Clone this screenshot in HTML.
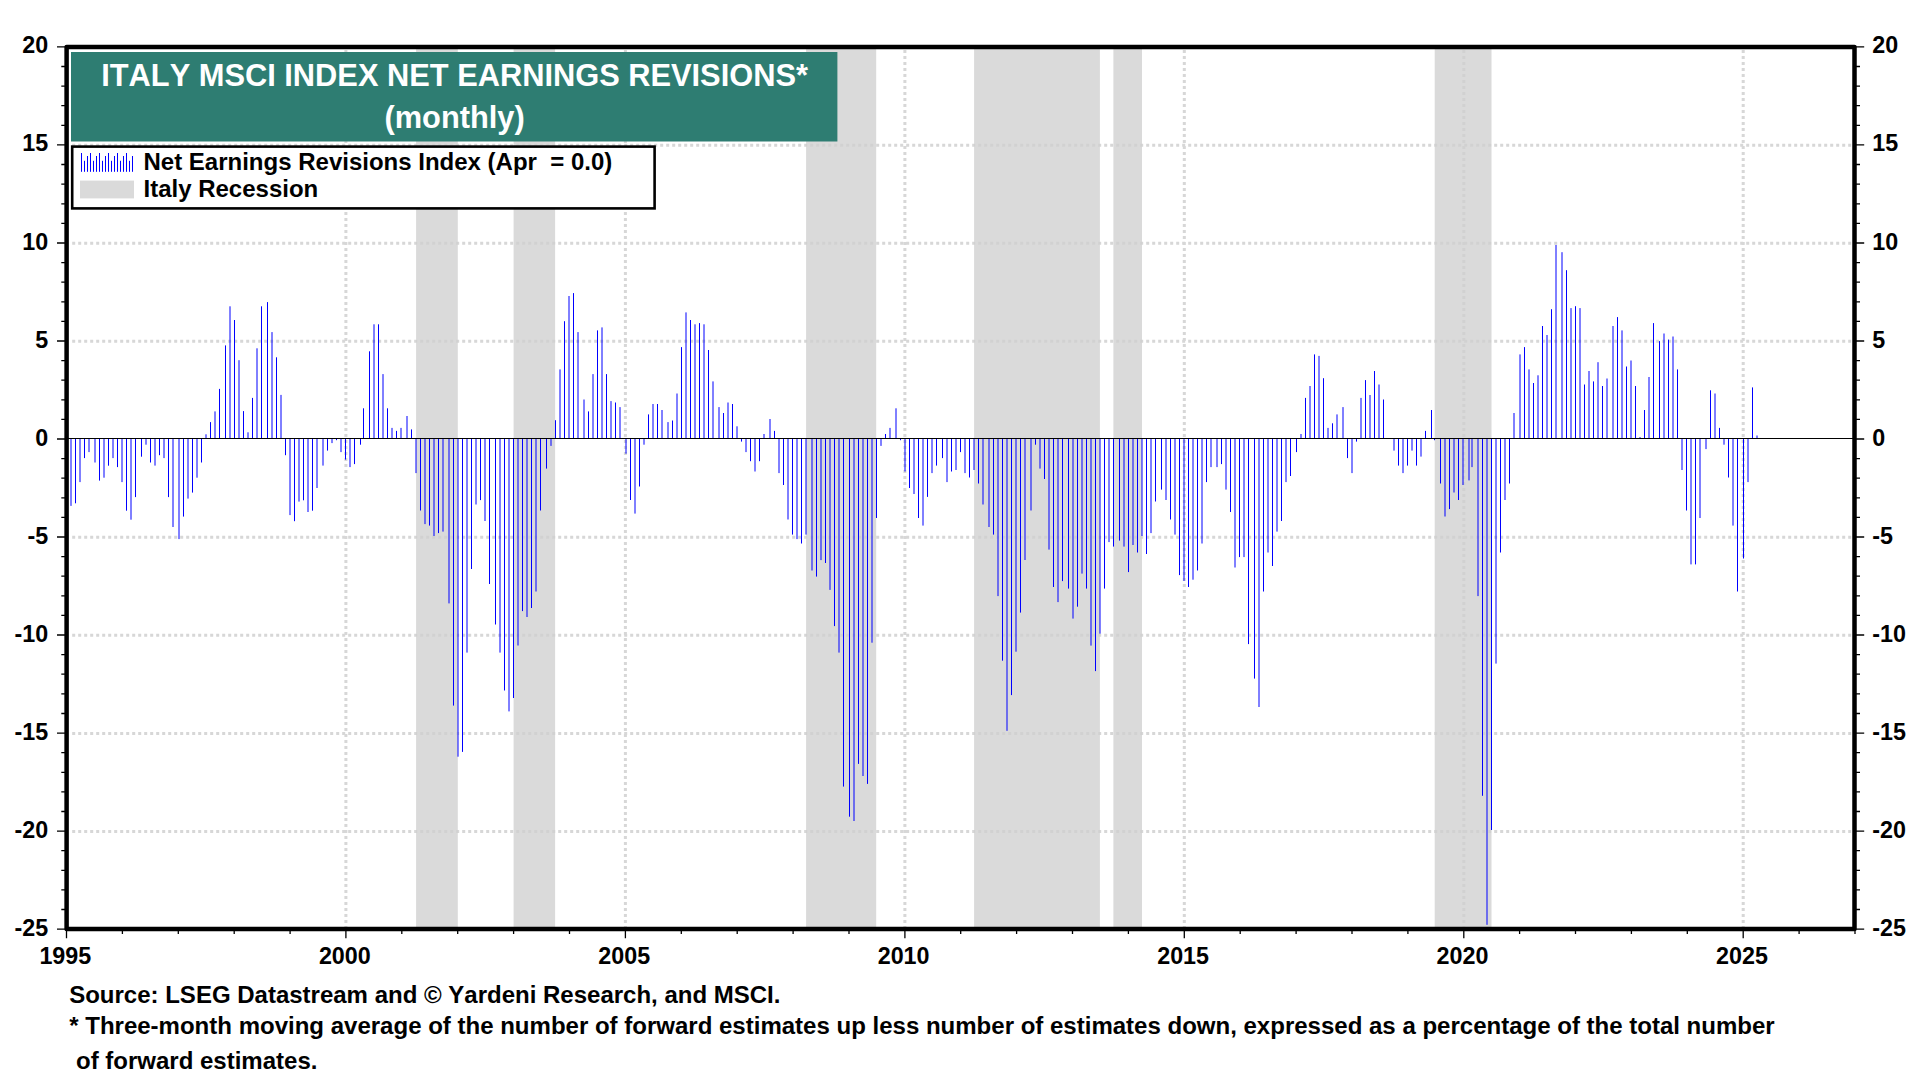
<!DOCTYPE html><html><head><meta charset="utf-8"><title>Italy MSCI Index Net Earnings Revisions</title>
<style>html,body{margin:0;padding:0;background:#fff}svg{display:block}text{font-kerning:none;font-family:"Liberation Sans",Arial,sans-serif;font-weight:bold;font-size:24px;fill:#000}text.t{font-size:23.3px}</style></head><body>
<svg width="1920" height="1080" viewBox="0 0 1920 1080">
<rect width="1920" height="1080" fill="#fff"/>
<path d="M72.2 831.4H1854.5M72.2 733.4H1854.5M72.2 635.3H1854.5M72.2 537.3H1854.5M72.2 341.3H1854.5M72.2 243.3H1854.5M72.2 145.2H1854.5M345.9 49.9V929.0M625.4 49.9V929.0M904.9 49.9V929.0M1184.3 49.9V929.0M1463.8 49.9V929.0M1743.2 49.9V929.0" stroke="#e0e0e0" stroke-width="3" stroke-dasharray="3 3" fill="none"/>
<rect x="416.10" y="46.9" width="41.70" height="882.1" fill="#dadada"/>
<rect x="513.60" y="46.9" width="41.50" height="882.1" fill="#dadada"/>
<rect x="806.10" y="46.9" width="70.10" height="882.1" fill="#dadada"/>
<rect x="974.10" y="46.9" width="125.80" height="882.1" fill="#dadada"/>
<rect x="1113.40" y="46.9" width="28.60" height="882.1" fill="#dadada"/>
<rect x="1434.70" y="46.9" width="56.80" height="882.1" fill="#dadada"/>
<path d="M72.2 831.4H1854.5M72.2 733.4H1854.5M72.2 635.3H1854.5M72.2 537.3H1854.5M72.2 341.3H1854.5M72.2 243.3H1854.5M72.2 145.2H1854.5M345.9 49.9V929.0M625.4 49.9V929.0M904.9 49.9V929.0M1184.3 49.9V929.0M1463.8 49.9V929.0M1743.2 49.9V929.0" stroke="#000" stroke-opacity="0.04" stroke-width="3" stroke-dasharray="3 3" fill="none"/>
<path d="M71.0 438.5V505.9M75.5 438.5V503.3M80.0 438.5V482.1M84.5 438.5V458.1M89.0 438.5V452.1M95.0 438.5V462.5M99.5 438.5V480.6M104.0 438.5V477.7M108.5 438.5V465.7M113.0 438.5V458.1M117.5 438.5V467.1M122.0 438.5V482.1M126.5 438.5V510.7M131.0 438.5V519.7M135.5 438.5V497.1M141.5 438.5V456.7M146.0 438.5V444.7M150.5 438.5V462.5M155.0 438.5V465.6M159.5 438.5V455.2M164.0 438.5V458.1M168.5 438.5V497.1M173.0 438.5V527.0M179.0 438.5V539.1M183.5 438.5V516.6M188.0 438.5V498.6M192.5 438.5V492.6M197.0 438.5V477.7M201.5 438.5V462.5M206.0 438.5V434.3M210.5 438.5V422.1M215.0 438.5V411.4M219.5 438.5V388.9M225.5 438.5V345.4M230.0 438.5V306.3M234.5 438.5V320.0M239.0 438.5V360.2M243.5 438.5V411.1M248.0 438.5V432.3M252.5 438.5V397.9M257.0 438.5V348.3M261.5 438.5V306.3M267.5 438.5V302.1M272.0 438.5V332.1M276.5 438.5V357.3M281.0 438.5V394.9M285.5 438.5V455.2M290.0 438.5V515.1M294.5 438.5V521.2M299.0 438.5V501.6M303.5 438.5V500.3M308.0 438.5V512.0M312.5 438.5V510.7M317.0 438.5V488.0M323.0 438.5V465.6M327.5 438.5V450.6M332.0 438.5V443.1M336.5 438.5V440.2M341.0 438.5V452.1M345.5 438.5V459.6M350.0 438.5V467.1M354.5 438.5V464.1M360.5 438.5V444.7M363.5 438.5V408.3M369.5 438.5V351.3M374.0 438.5V324.3M378.5 438.5V324.3M383.0 438.5V374.1M387.5 438.5V408.3M392.0 438.5V427.9M396.5 438.5V430.9M401.0 438.5V427.9M407.0 438.5V416.0M411.5 438.5V429.4M416.0 438.5V473.1M420.5 438.5V510.5M425.0 438.5V524.1M429.5 438.5V525.6M434.0 438.5V536.0M438.5 438.5V533.1M443.0 438.5V531.6M449.0 438.5V603.4M453.5 438.5V705.6M458.0 438.5V756.7M462.5 438.5V751.9M467.0 438.5V652.6M471.5 438.5V569.0M476.0 438.5V504.5M480.5 438.5V500.1M485.0 438.5V521.0M489.5 438.5V584.0M495.5 438.5V624.5M500.0 438.5V652.6M504.5 438.5V690.5M509.0 438.5V711.4M513.5 438.5V698.0M518.0 438.5V645.5M522.5 438.5V611.1M527.0 438.5V617.0M531.5 438.5V608.0M536.0 438.5V591.5M540.5 438.5V510.5M546.5 438.5V468.6M551.0 438.5V445.9M555.5 438.5V420.2M560.0 438.5V369.4M564.5 438.5V321.2M569.0 438.5V296.0M573.5 438.5V293.1M578.0 438.5V332.1M584.0 438.5V399.5M588.5 438.5V411.4M593.0 438.5V374.1M597.5 438.5V330.4M602.0 438.5V327.4M606.5 438.5V374.1M611.0 438.5V401.1M615.5 438.5V402.5M620.0 438.5V407.1M626.0 438.5V453.7M630.5 438.5V500.0M635.0 438.5V513.6M639.5 438.5V486.5M644.0 438.5V444.7M648.5 438.5V414.4M653.0 438.5V404.0M657.5 438.5V404.0M662.0 438.5V410.0M668.0 438.5V422.1M672.5 438.5V420.5M677.0 438.5V393.5M681.5 438.5V347.1M686.0 438.5V312.4M690.5 438.5V320.0M695.0 438.5V324.3M699.5 438.5V323.1M704.0 438.5V324.3M708.5 438.5V350.0M713.0 438.5V381.4M719.0 438.5V407.1M723.5 438.5V413.0M728.0 438.5V402.5M732.5 438.5V404.0M737.0 438.5V426.3M741.5 438.5V441.6M746.0 438.5V452.1M750.5 438.5V461.2M755.0 438.5V471.5M759.5 438.5V461.2M764.0 438.5V434.0M770.0 438.5V419.0M774.5 438.5V430.9M779.0 438.5V473.1M783.5 438.5V485.0M788.0 438.5V519.5M792.5 438.5V534.6M797.0 438.5V539.1M801.5 438.5V543.5M806.0 438.5V534.6M812.0 438.5V570.5M816.5 438.5V576.6M821.0 438.5V560.1M825.5 438.5V563.0M830.0 438.5V589.9M834.5 438.5V626.1M839.0 438.5V652.6M843.5 438.5V786.6M849.5 438.5V816.7M854.0 438.5V821.0M858.5 438.5V763.9M863.0 438.5V776.0M867.5 438.5V783.9M872.0 438.5V642.7M876.5 438.5V518.0M881.0 438.5V445.9M885.5 438.5V434.0M890.0 438.5V427.9M896.0 438.5V408.3M900.5 438.5V440.2M905.0 438.5V471.5M909.5 438.5V488.0M914.0 438.5V494.0M918.5 438.5V518.0M923.0 438.5V525.6M927.5 438.5V496.9M932.0 438.5V473.1M936.5 438.5V465.6M942.5 438.5V458.1M947.0 438.5V482.1M951.5 438.5V471.5M956.0 438.5V470.0M960.5 438.5V452.1M965.0 438.5V473.1M969.5 438.5V477.5M974.0 438.5V470.0M978.5 438.5V483.5M983.0 438.5V504.5M989.0 438.5V527.0M993.5 438.5V534.6M998.0 438.5V596.1M1002.5 438.5V660.7M1007.0 438.5V730.8M1011.5 438.5V695.1M1016.0 438.5V651.7M1020.5 438.5V612.6M1025.0 438.5V560.0M1031.0 438.5V510.5M1035.5 438.5V444.7M1040.0 438.5V468.6M1044.5 438.5V479.0M1049.0 438.5V549.6M1053.5 438.5V587.0M1058.0 438.5V602.1M1062.5 438.5V581.1M1068.5 438.5V588.6M1073.0 438.5V618.6M1077.5 438.5V606.7M1082.0 438.5V573.6M1086.5 438.5V588.6M1091.0 438.5V645.6M1095.5 438.5V671.1M1100.0 438.5V633.7M1104.5 438.5V588.6M1109.0 438.5V542.1M1113.5 438.5V546.6M1119.5 438.5V540.6M1124.0 438.5V546.6M1128.5 438.5V572.1M1133.0 438.5V545.0M1137.5 438.5V552.5M1142.0 438.5V536.0M1146.5 438.5V554.0M1151.0 438.5V533.1M1155.5 438.5V501.5M1161.5 438.5V489.6M1166.0 438.5V500.0M1170.5 438.5V519.5M1175.0 438.5V534.6M1179.5 438.5V575.1M1184.0 438.5V580.9M1188.5 438.5V587.0M1193.0 438.5V579.7M1197.5 438.5V570.5M1202.0 438.5V543.5M1206.5 438.5V482.1M1211.0 438.5V467.1M1217.0 438.5V467.1M1221.5 438.5V464.1M1226.0 438.5V489.6M1230.5 438.5V512.0M1235.0 438.5V567.5M1239.5 438.5V557.1M1244.0 438.5V557.1M1248.5 438.5V644.1M1254.5 438.5V678.6M1259.0 438.5V707.0M1263.5 438.5V591.5M1268.0 438.5V552.5M1272.5 438.5V566.0M1277.0 438.5V531.6M1281.5 438.5V521.0M1286.0 438.5V482.1M1290.5 438.5V476.0M1296.5 438.5V452.1M1301.0 438.5V434.0M1305.5 438.5V397.9M1310.0 438.5V386.0M1314.5 438.5V354.4M1319.0 438.5V355.9M1323.5 438.5V378.2M1328.0 438.5V427.9M1332.5 438.5V423.3M1337.0 438.5V414.4M1343.0 438.5V407.1M1347.5 438.5V458.1M1352.0 438.5V473.1M1356.5 438.5V441.6M1361.0 438.5V397.9M1365.5 438.5V380.1M1370.0 438.5V395.0M1374.5 438.5V371.0M1379.0 438.5V384.5M1383.5 438.5V399.5M1394.0 438.5V450.6M1398.5 438.5V465.6M1403.0 438.5V473.1M1407.5 438.5V465.6M1412.0 438.5V450.6M1416.5 438.5V465.6M1421.0 438.5V456.6M1425.5 438.5V430.9M1431.5 438.5V410.0M1434.5 438.5V440.2M1440.5 438.5V483.5M1445.0 438.5V516.5M1449.5 438.5V509.1M1454.0 438.5V492.5M1458.5 438.5V500.0M1463.0 438.5V485.0M1469.0 438.5V480.4M1472.0 438.5V467.1M1478.0 438.5V596.1M1482.5 438.5V795.8M1487.0 438.5V924.8M1491.5 438.5V830.0M1496.0 438.5V663.6M1500.5 438.5V552.5M1505.0 438.5V500.0M1509.5 438.5V483.5M1514.0 438.5V413.0M1520.0 438.5V354.4M1524.5 438.5V347.1M1529.0 438.5V369.4M1533.5 438.5V383.0M1538.0 438.5V375.3M1542.5 438.5V326.0M1547.0 438.5V335.0M1551.5 438.5V309.2M1556.0 438.5V245.0M1562.0 438.5V252.2M1566.5 438.5V270.2M1571.0 438.5V308.1M1575.5 438.5V306.2M1580.0 438.5V308.1M1584.5 438.5V384.5M1589.0 438.5V371.0M1593.5 438.5V381.4M1598.0 438.5V362.2M1602.5 438.5V386.0M1607.0 438.5V378.5M1613.0 438.5V326.0M1617.5 438.5V317.1M1622.0 438.5V330.4M1626.5 438.5V366.5M1631.0 438.5V360.5M1635.5 438.5V386.0M1640.0 438.5V437.0M1644.5 438.5V410.0M1649.0 438.5V377.0M1653.5 438.5V323.1M1659.5 438.5V341.1M1664.0 438.5V333.5M1668.5 438.5V339.6M1673.0 438.5V336.5M1677.5 438.5V369.4M1682.0 438.5V470.0M1686.5 438.5V510.5M1691.0 438.5V564.4M1695.5 438.5V564.4M1700.0 438.5V518.0M1706.0 438.5V449.1M1710.5 438.5V390.3M1715.0 438.5V393.5M1719.5 438.5V427.9M1724.0 438.5V444.7M1728.5 438.5V477.5M1733.0 438.5V525.6M1737.5 438.5V591.5M1743.5 438.5V558.5M1748.0 438.5V482.1M1752.5 438.5V387.4M1757.0 438.5V435.5" stroke="#0000ff" stroke-width="1" fill="none"/>
<path d="M66.6 438.5H1854.5" stroke="#000" stroke-width="1.2"/>
<rect x="71" y="52" width="766.4" height="89.5" fill="#2e7d72"/>
<text x="454.6" y="85.6" text-anchor="middle" style="font-size:30.8px;fill:#fff">ITALY MSCI INDEX NET EARNINGS REVISIONS*</text>
<text x="454.6" y="127.5" text-anchor="middle" style="font-size:30.8px;fill:#fff">(monthly)</text>
<rect x="72.2" y="146.6" width="582.4" height="61.8" fill="#fff" stroke="#000" stroke-width="2.6"/>
<path d="M81.5 153.0V171.8M84.5 160.8V171.8M87.5 156.0V171.8M90.5 153.0V171.8M93.5 160.8V171.8M96.5 156.0V171.8M99.5 153.0V171.8M102.5 160.8V171.8M105.5 156.0V171.8M108.5 153.0V171.8M111.5 160.8V171.8M114.5 156.0V171.8M117.5 153.0V171.8M120.5 160.8V171.8M123.5 156.0V171.8M126.5 153.0V171.8M129.5 160.8V171.8M132.5 156.0V171.8" stroke="#0000ff" stroke-width="1" fill="none"/>
<rect x="80" y="180.6" width="54" height="17.8" fill="#dadada"/>
<text x="143.5" y="169.8" xml:space="preserve">Net Earnings Revisions Index (Apr  = 0.0)</text>
<text x="143.5" y="196.8">Italy Recession</text>
<rect x="66.6" y="46.9" width="1787.9" height="882.1" fill="none" stroke="#000" stroke-width="4.5" stroke-linejoin="round"/>
<path d="M57 929.1H66.6M1854.5 929.1H1864.2M61.3 909.5H66.6M1854.5 909.5H1860M61.3 889.9H66.6M1854.5 889.9H1860M61.3 870.3H66.6M1854.5 870.3H1860M61.3 850.7H66.6M1854.5 850.7H1860M57 831.1H66.6M1854.5 831.1H1864.2M61.3 811.5H66.6M1854.5 811.5H1860M61.3 791.9H66.6M1854.5 791.9H1860M61.3 772.3H66.6M1854.5 772.3H1860M61.3 752.7H66.6M1854.5 752.7H1860M57 733.1H66.6M1854.5 733.1H1864.2M61.3 713.5H66.6M1854.5 713.5H1860M61.3 693.9H66.6M1854.5 693.9H1860M61.3 674.2H66.6M1854.5 674.2H1860M61.3 654.6H66.6M1854.5 654.6H1860M57 635.0H66.6M1854.5 635.0H1864.2M61.3 615.4H66.6M1854.5 615.4H1860M61.3 595.8H66.6M1854.5 595.8H1860M61.3 576.2H66.6M1854.5 576.2H1860M61.3 556.6H66.6M1854.5 556.6H1860M57 537.0H66.6M1854.5 537.0H1864.2M61.3 517.4H66.6M1854.5 517.4H1860M61.3 497.8H66.6M1854.5 497.8H1860M61.3 478.2H66.6M1854.5 478.2H1860M61.3 458.6H66.6M1854.5 458.6H1860M57 439.0H66.6M1854.5 439.0H1864.2M61.3 419.4H66.6M1854.5 419.4H1860M61.3 399.8H66.6M1854.5 399.8H1860M61.3 380.2H66.6M1854.5 380.2H1860M61.3 360.6H66.6M1854.5 360.6H1860M57 341.0H66.6M1854.5 341.0H1864.2M61.3 321.4H66.6M1854.5 321.4H1860M61.3 301.8H66.6M1854.5 301.8H1860M61.3 282.2H66.6M1854.5 282.2H1860M61.3 262.6H66.6M1854.5 262.6H1860M57 243.0H66.6M1854.5 243.0H1864.2M61.3 223.4H66.6M1854.5 223.4H1860M61.3 203.8H66.6M1854.5 203.8H1860M61.3 184.1H66.6M1854.5 184.1H1860M61.3 164.5H66.6M1854.5 164.5H1860M57 144.9H66.6M1854.5 144.9H1864.2M61.3 125.3H66.6M1854.5 125.3H1860M61.3 105.7H66.6M1854.5 105.7H1860M61.3 86.1H66.6M1854.5 86.1H1860M61.3 66.5H66.6M1854.5 66.5H1860M57 46.9H66.6M1854.5 46.9H1864.2M66.5 929.0V938.2M122.4 929.0V934M178.3 929.0V934M234.2 929.0V934M290.1 929.0V934M345.9 929.0V938.2M401.8 929.0V934M457.7 929.0V934M513.6 929.0V934M569.5 929.0V934M625.4 929.0V938.2M681.3 929.0V934M737.2 929.0V934M793.1 929.0V934M849.0 929.0V934M904.9 929.0V938.2M960.7 929.0V934M1016.6 929.0V934M1072.5 929.0V934M1128.4 929.0V934M1184.3 929.0V938.2M1240.2 929.0V934M1296.1 929.0V934M1352.0 929.0V934M1407.9 929.0V934M1463.8 929.0V938.2M1519.6 929.0V934M1575.5 929.0V934M1631.4 929.0V934M1687.3 929.0V934M1743.2 929.0V938.2M1799.1 929.0V934M1855.0 929.0V934" stroke="#000" stroke-width="1.3" fill="none"/>
<text x="48.2" y="935.6" text-anchor="end" class="t">-25</text>
<text x="1872.3" y="935.6" class="t">-25</text>
<text x="48.2" y="837.6" text-anchor="end" class="t">-20</text>
<text x="1872.3" y="837.6" class="t">-20</text>
<text x="48.2" y="739.6" text-anchor="end" class="t">-15</text>
<text x="1872.3" y="739.6" class="t">-15</text>
<text x="48.2" y="641.5" text-anchor="end" class="t">-10</text>
<text x="1872.3" y="641.5" class="t">-10</text>
<text x="48.2" y="543.5" text-anchor="end" class="t">-5</text>
<text x="1872.3" y="543.5" class="t">-5</text>
<text x="48.2" y="445.5" text-anchor="end" class="t">0</text>
<text x="1872.3" y="445.5" class="t">0</text>
<text x="48.2" y="347.5" text-anchor="end" class="t">5</text>
<text x="1872.3" y="347.5" class="t">5</text>
<text x="48.2" y="249.5" text-anchor="end" class="t">10</text>
<text x="1872.3" y="249.5" class="t">10</text>
<text x="48.2" y="151.4" text-anchor="end" class="t">15</text>
<text x="1872.3" y="151.4" class="t">15</text>
<text x="48.2" y="53.4" text-anchor="end" class="t">20</text>
<text x="1872.3" y="53.4" class="t">20</text>
<text x="65.3" y="963.5" text-anchor="middle" class="t">1995</text>
<text x="344.8" y="963.5" text-anchor="middle" class="t">2000</text>
<text x="624.2" y="963.5" text-anchor="middle" class="t">2005</text>
<text x="903.6" y="963.5" text-anchor="middle" class="t">2010</text>
<text x="1183.1" y="963.5" text-anchor="middle" class="t">2015</text>
<text x="1462.5" y="963.5" text-anchor="middle" class="t">2020</text>
<text x="1742.0" y="963.5" text-anchor="middle" class="t">2025</text>
<text x="69.2" y="1002.5">Source: LSEG Datastream and © Yardeni Research, and MSCI.</text>
<text x="69.2" y="1034" style="font-size:24.03px">* Three-month moving average of the number of forward estimates up less number of estimates down, expressed as a percentage of the total number</text>
<text x="76" y="1069">of forward estimates.</text>
</svg></body></html>
